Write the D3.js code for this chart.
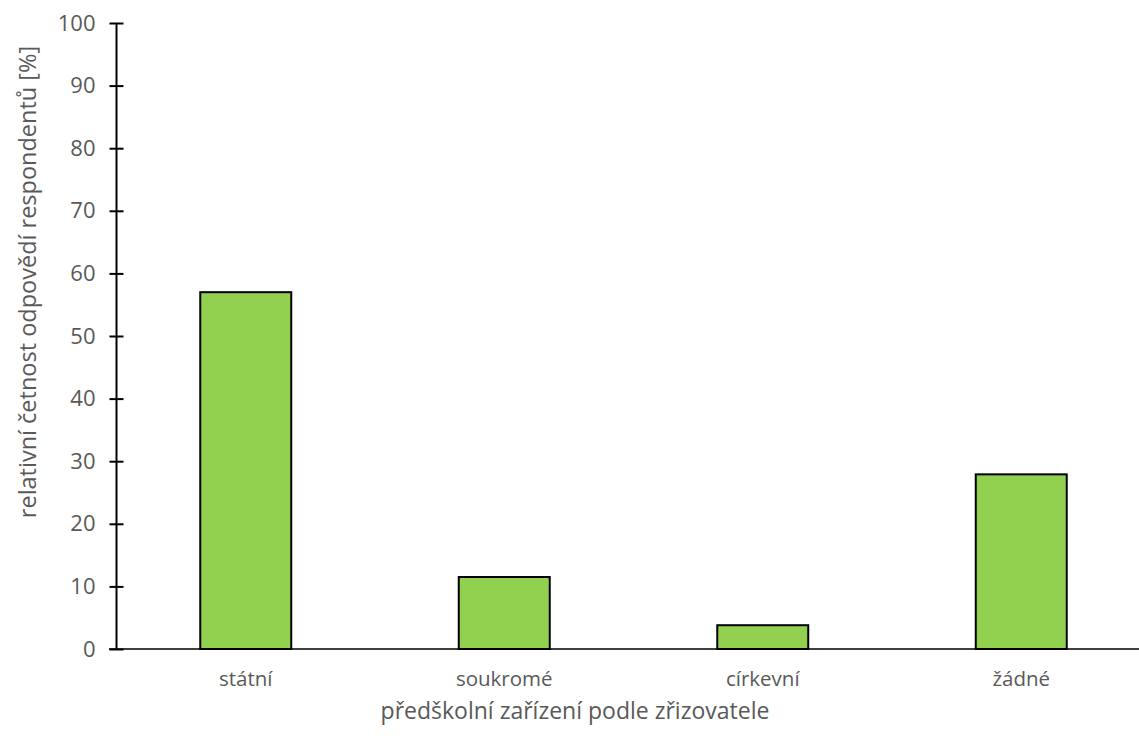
<!DOCTYPE html>
<html><head><meta charset="utf-8">
<script src="https://cdn.jsdelivr.net/npm/d3@7"></script>
<style>body{margin:0;background:#fff}svg{display:block}text{font-family:"Open Sans","Noto Sans",sans-serif;fill:#595959}</style>
</head><body>
<script>
const categories = ["státní","soukromé","církevní","žádné"];
const values = [57, 11.5, 3.8, 27.9];
const yTicks = [0,10,20,30,40,50,60,70,80,90,100];
const xTitle = "předškolní zařízení podle zřizovatele";
const yTitle = "relativní četnost odpovědí respondentů [%]";

const W=1139,H=740;
const svg=d3.select("body").append("svg").attr("width",W).attr("height",H);
const x=d3.scaleBand().domain(categories).range([116.5,1150.5]).paddingInner(0.648).paddingOuter(0.324);
const y=d3.scaleLinear().domain([0,100]).range([649,23]);

svg.selectAll("rect.bar").data(values).join("rect").attr("class","bar")
  .attr("x",(d,i)=>x(categories[i])).attr("width",x.bandwidth())
  .attr("y",d=>y(d)).attr("height",d=>y(0)-y(d))
  .attr("fill","#92D050").attr("stroke","#000").attr("stroke-width",2);

svg.append("line").attr("x1",109).attr("x2",1139).attr("y1",y(0)).attr("y2",y(0)).attr("stroke","#000").attr("stroke-width",1.5);

const ya=svg.append("g").attr("transform","translate(116.5,0)").call(d3.axisLeft(y).tickValues(yTicks).tickSize(7).tickPadding(14));
ya.select(".domain").remove();
ya.selectAll(".tick line").attr("x2",7).attr("x1",-7).attr("stroke","#000").attr("stroke-width",2);
ya.selectAll(".tick text").style("font-size","22px").style("font-family","Open Sans").attr("fill","#595959");
svg.append("line").attr("x1",116.5).attr("x2",116.5).attr("y1",y(100)).attr("y2",y(0)).attr("stroke","#000").attr("stroke-width",2);

const xa=svg.append("g").attr("transform",`translate(0,${y(0)})`).call(d3.axisBottom(x).tickSize(0).tickPadding(0));
xa.select(".domain").remove();
xa.selectAll(".tick text").attr("dy",null).attr("y",37).style("font-size","20.5px").style("font-family","Open Sans").attr("fill","#595959");

svg.append("text").attr("x",575).attr("y",719).attr("text-anchor","middle").style("font-size","23px").text(xTitle);
svg.append("text").attr("transform","translate(36,282) rotate(-90)").attr("text-anchor","middle").style("font-size","23.5px").text(yTitle);
</script>
</body></html>
